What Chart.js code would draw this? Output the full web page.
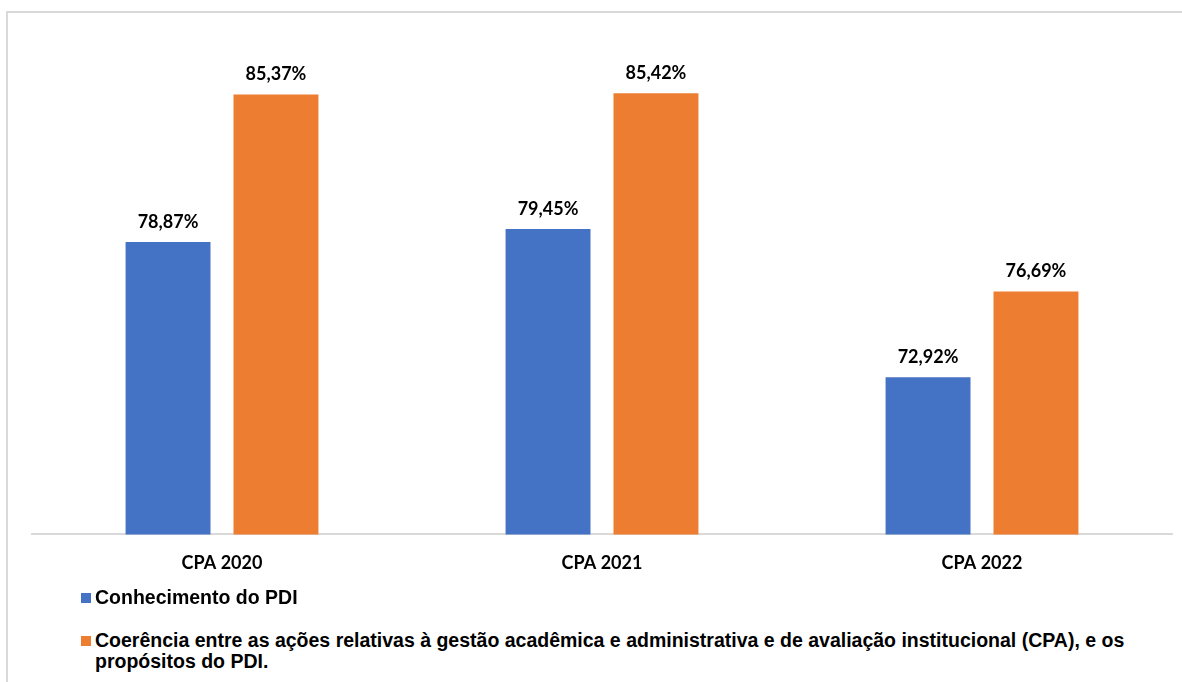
<!DOCTYPE html>
<html>
<head>
<meta charset="utf-8">
<script src="https://cdn.jsdelivr.net/npm/chart.js@4.4.1/dist/chart.umd.min.js"></script>
<style>
  html, body { margin: 0; padding: 0; background: #fff; }
  body { width: 1182px; height: 682px; position: relative; overflow: hidden; }
  #frame { position: absolute; left: 6px; top: 11px; width: 1200px; height: 700px;
           border: 2px solid #d9d9d9; box-sizing: border-box; }
  #wrap { position: absolute; left: 0; top: 0; width: 1182px; height: 600px; }
  .legend { position: absolute; left: 81px; font-family: "Liberation Sans", Arial, sans-serif;
            font-weight: bold; font-size: 19.5px; line-height: 21px; color: #000; white-space: nowrap; }
  .legend .sw { display: inline-block; width: 10px; height: 10px; margin-right: 4px;
                vertical-align: 1px; }
</style>
</head>
<body>
<div id="frame"></div>
<div id="wrap"><canvas id="chart"></canvas></div>
<div class="legend" id="leg1" style="top:587px"><span class="sw" style="background:#4472C4"></span>Conhecimento do PDI</div>
<div class="legend" id="leg2" style="top:630px"><span class="sw" style="background:#ED7D31"></span>Coerência entre as ações relativas à gestão acadêmica e administrativa e de avaliação institucional (CPA), e os<br><span style="margin-left:14px">propósitos do PDI.</span></div>
<script>
'use strict';

// categorias e séries
const categories = ['CPA 2020', 'CPA 2021', 'CPA 2022'];
const conhecimento = [78.87, 79.45, 72.92];
const coerencia = [85.37, 85.42, 76.69];
const seriesNames = [
  'Conhecimento do PDI',
  'Coerência entre as ações relativas à gestão acadêmica e administrativa e de avaliação institucional (CPA), e os propósitos do PDI.'
];

const BLUE = '#4472C4';
const ORANGE = '#ED7D31';

function fmt(v) {
  return v.toFixed(2).replace('.', ',') + '%';
}

// rótulos acima das barras
const valueLabels = {
  id: 'valueLabels',
  afterDatasetsDraw(chart) {
    const ctx = chart.ctx;
    ctx.save();
    ctx.font = 'bold 18px Lato, sans-serif';
    ctx.fillStyle = '#000';
    ctx.textAlign = 'center';
    ctx.textBaseline = 'middle';
    chart.data.datasets.forEach((ds, i) => {
      chart.getDatasetMeta(i).data.forEach((bar, j) => {
        ctx.fillText(fmt(ds.data[j]), bar.x, bar.y - 20);
      });
    });
    ctx.restore();
  }
};

new Chart(document.getElementById('chart'), {
  type: 'bar',
  data: {
    labels: categories,
    datasets: [
      { label: seriesNames[0], data: conhecimento, backgroundColor: BLUE },
      { label: seriesNames[1], data: coerencia, backgroundColor: ORANGE }
    ]
  },
  options: {
    responsive: true,
    maintainAspectRatio: false,
    animation: false,
    categoryPercentage: 0.568,
    barPercentage: 0.787,
    layout: { padding: { left: 32, right: 10, top: 12, bottom: 8 } },
    plugins: {
      legend: { display: false },
      tooltip: { enabled: false }
    },
    scales: {
      x: {
        grid: { display: false, drawTicks: false },
        border: { display: true, color: '#d9d9d9', width: 2 },
        ticks: { font: { family: 'Lato', weight: 'bold', size: 18 }, color: '#000', padding: 18 }
      },
      y: {
        display: false,
        min: 66,
        max: 89
      }
    }
  },
  plugins: [valueLabels]
});
</script>
</body>
</html>
